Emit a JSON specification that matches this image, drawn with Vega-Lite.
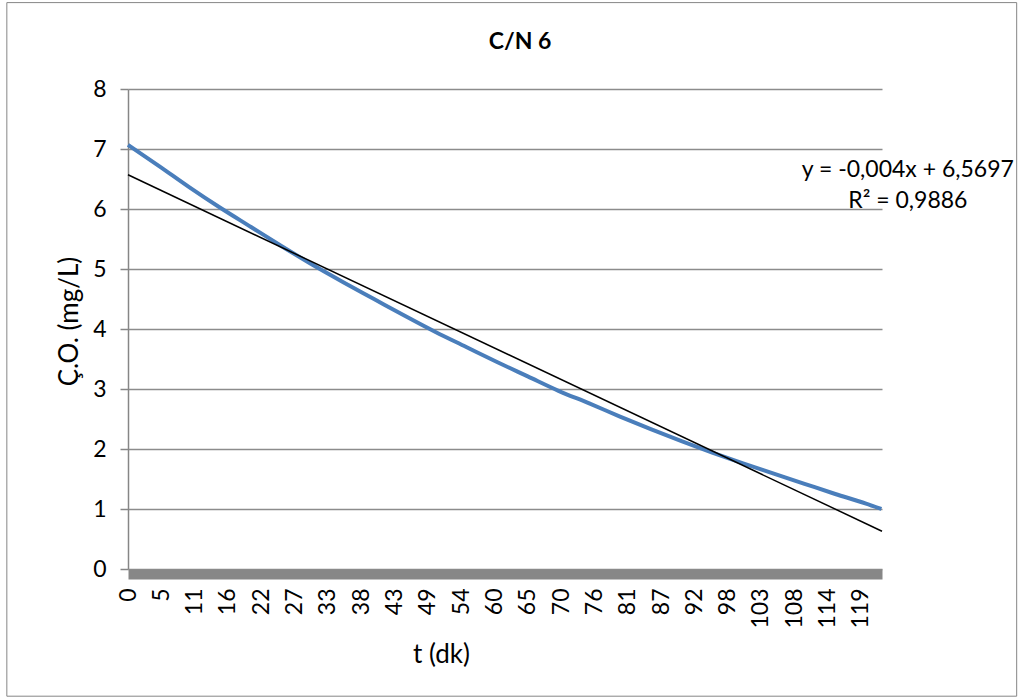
{
  "$schema": "https://vega.github.io/schema/vega-lite/v6.json",
  "width": 754,
  "height": 480,
  "autosize": {"type": "none"},
  "padding": {"left": 128, "top": 89, "right": 143, "bottom": 131},
  "background": "white",
  "title": {"text": "C/N 6", "font": "Lato", "fontSize": 23, "fontWeight": "bold", "color": "black", "anchor": "middle", "frame": "group", "dx": 15, "offset": -52},
  "config": {"view": {"stroke": null}, "font": "Lato"},
  "datasets": {
    "olcum": [
      {"t": 0, "co": 7.07},
      {"t": 5, "co": 6.72},
      {"t": 10, "co": 6.36},
      {"t": 15, "co": 6.02},
      {"t": 20, "co": 5.7},
      {"t": 25, "co": 5.38},
      {"t": 30, "co": 5.07},
      {"t": 35, "co": 4.78},
      {"t": 40, "co": 4.5},
      {"t": 45, "co": 4.22},
      {"t": 50, "co": 3.95},
      {"t": 55, "co": 3.7},
      {"t": 60, "co": 3.45},
      {"t": 65, "co": 3.21},
      {"t": 70, "co": 2.97},
      {"t": 75, "co": 2.76},
      {"t": 80, "co": 2.54},
      {"t": 85, "co": 2.33},
      {"t": 90, "co": 2.13},
      {"t": 95, "co": 1.94},
      {"t": 100, "co": 1.76},
      {"t": 105, "co": 1.59},
      {"t": 110, "co": 1.42},
      {"t": 115, "co": 1.25},
      {"t": 120, "co": 1.09},
      {"t": 122.5, "co": 1.0}
    ],
    "trend": [
      {"t": 0, "co": 6.57},
      {"t": 122.6, "co": 0.63}
    ],
    "one": [{"k": 1}]
  },
  "layer": [
    {
      "data": {"name": "olcum"},
      "mark": {"type": "line", "color": "#4a7ebb", "strokeWidth": 4, "interpolate": "monotone", "clip": false},
      "encoding": {
        "x": {"field": "t", "type": "quantitative", "title": "t (dk)",
          "scale": {"domain": [0, 122.6], "nice": false, "zero": false},
          "axis": {
            "values": [0, 5.4167, 10.8333, 16.25, 21.6667, 27.0833, 32.5, 37.9167, 43.3333, 48.75, 54.1667, 59.5833, 65, 70.4167, 75.8333, 81.25, 86.6667, 92.0833, 97.5, 102.9167, 108.3333, 113.75, 119.1667],
            "tickCount": 40,
            "labelExpr": "round(datum.value)",
            "labelAngle": -90, "labelAlign": "right", "labelBaseline": "middle",
            "labelFont": "Lato", "labelFontSize": 23, "labelColor": "black", "labelPadding": 14,
            "labelOverlap": false, "labelFlush": false,
            "ticks": false, "grid": false,
            "domainColor": "#878787", "domainWidth": 10, "offset": 5,
            "titleFont": "Lato", "titleFontSize": 26, "titleFontWeight": "normal", "titleColor": "black",
            "titleX": 313, "titleY": 88, "titleBaseline": "alphabetic", "titleAlign": "center"
          }
        },
        "y": {"field": "co", "type": "quantitative", "title": "Ç.O. (mg/L)",
          "scale": {"domain": [0, 8], "nice": false},
          "axis": {
            "values": [0, 1, 2, 3, 4, 5, 6, 7, 8], "format": "d",
            "labelFont": "Lato", "labelFontSize": 23, "labelColor": "black", "labelPadding": 14,
            "tickSize": 8, "tickColor": "#868686", "tickWidth": 1.5,
            "domainColor": "#868686", "domainWidth": 1.5,
            "grid": true, "gridColor": "#8c8c8c", "gridWidth": 1.5,
            "titleFont": "Lato", "titleFontSize": 26, "titleFontWeight": "normal", "titleColor": "black",
            "titleX": -46, "titleY": 232, "titleAngle": -90, "titleBaseline": "bottom", "titleAlign": "center"
          }
        }
      }
    },
    {
      "data": {"name": "trend"},
      "mark": {"type": "line", "color": "black", "strokeWidth": 1.5, "clip": false},
      "encoding": {
        "x": {"field": "t", "type": "quantitative"},
        "y": {"field": "co", "type": "quantitative"}
      }
    },
    {
      "data": {"name": "one"},
      "mark": {"type": "rect", "fill": null, "stroke": "#868686", "strokeWidth": 1, "clip": false},
      "encoding": {
        "x": {"datum": -19.7, "type": "quantitative"},
        "x2": {"datum": 144.5},
        "y": {"datum": 9.44, "type": "quantitative"},
        "y2": {"datum": -2.12}
      }
    },
    {
      "data": {"name": "one"},
      "mark": {"type": "text", "align": "center", "baseline": "alphabetic", "font": "Lato", "fontSize": 23, "color": "black", "lineHeight": 31, "clip": false},
      "encoding": {
        "x": {"datum": 126.8, "type": "quantitative"},
        "y": {"datum": 6.54, "type": "quantitative"},
        "text": {"value": ["y = -0,004x + 6,5697", "R² = 0,9886"]}
      }
    }
  ]
}
